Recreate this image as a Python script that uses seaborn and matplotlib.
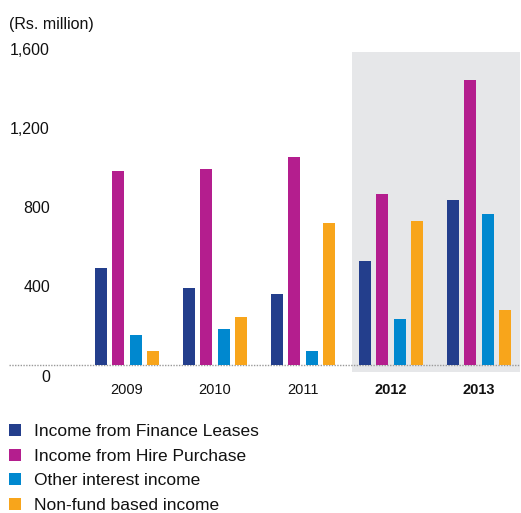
import matplotlib
matplotlib.use("Agg")
import matplotlib.pyplot as plt
from matplotlib.patches import Rectangle
import pandas as pd
import seaborn as sns

# Income composition, Rs. million
years = ["2009", "2010", "2011", "2012", "2013"]
finance_leases = [492, 389, 358, 526, 835]
hire_purchase = [982, 992, 1053, 865, 1443]
other_interest = [151, 181, 69, 232, 764]
non_fund_based = [69, 242, 718, 728, 277]

series_names = [
    "Income from Finance Leases",
    "Income from Hire Purchase",
    "Other interest income",
    "Non-fund based income",
]
series_values = [finance_leases, hire_purchase, other_interest, non_fund_based]
colors = ["#233E8C", "#B41E8E", "#0088CF", "#F8A51B"]
y_ticks = [400, 800, 1200, 1600]
highlight_years = ["2012", "2013"]

df = pd.DataFrame(
    [(y, name, v) for name, vals in zip(series_names, series_values)
     for y, v in zip(years, vals)],
    columns=["year", "series", "value"],
)

sns.set_theme(style="white")
plt.rcParams["font.family"] = ["Liberation Sans", "DejaVu Sans"]

W, H = 521, 513
fig = plt.figure(figsize=(W / 100, H / 100), dpi=100)
ax = fig.add_axes([9 / W, 1 - 384.4 / H, 511 / W, 345.1 / H])

sns.barplot(
    data=df, x="year", y="value", hue="series", order=years,
    hue_order=series_names, palette=colors, saturation=1,
    width=0.8, gap=0.32, linewidth=0, ax=ax, zorder=2,
)

ax.set_xlim(-1.341, 4.466)
ax.set_ylim(-100, 1650)

# shaded panel behind the latest two years
ax.add_patch(Rectangle((2.557, -37), 3.0, 1622, facecolor="#E6E7E9",
                       edgecolor="none", zorder=0))
ax.axhline(0, color="#999999", linestyle=(0, (1, 1)), linewidth=1.0, zorder=1)

for s in ax.spines.values():
    s.set_visible(False)

ax.set_xlabel("")
ax.set_ylabel("")
ax.set_yticks(y_ticks, labels=[f"{t:,}" for t in y_ticks])
ax.tick_params(axis="y", length=0, pad=-29.5, labelsize=11.5, labelcolor="#111111")
ax.tick_params(axis="x", length=0, pad=-1.2, labelsize=10.5, labelcolor="#111111")
for lab in ax.get_yticklabels():
    lab.set_horizontalalignment("right")
for lab in ax.get_xticklabels():
    if lab.get_text() in highlight_years:
        lab.set_fontweight("bold")

ax.annotate("0", xy=(41 / 511, 0), xycoords=("axes fraction", "data"),
            xytext=(0, -9.2), textcoords="offset points",
            ha="right", va="center", fontsize=11.5, color="#111111")

fig.text(9 / W, 1 - 24 / H, "(Rs. million)", ha="left", va="center",
         fontsize=11.5, color="#111111")

sns.move_legend(
    ax, "upper left", bbox_to_anchor=(9 / W, 1 - 424 / H),
    bbox_transform=fig.transFigure, frameon=False, title=None,
    fontsize=12.5, borderpad=0, borderaxespad=0, handlelength=0.71,
    handleheight=0.71, handletextpad=0.72, labelspacing=0.54,
)
for t in ax.get_legend().get_texts():
    t.set_color("#111111")

fig.savefig("out.png", dpi=100)
